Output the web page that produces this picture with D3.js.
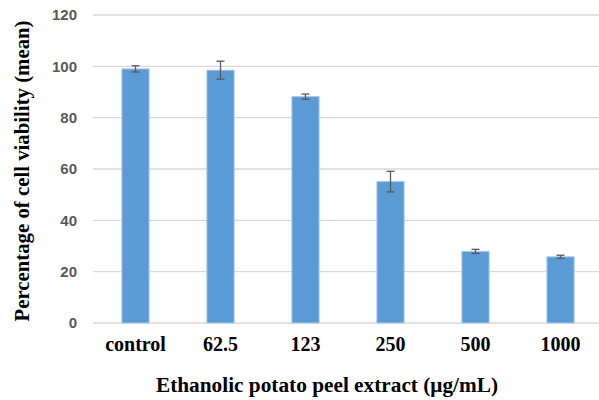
<!DOCTYPE html>
<html>
<head>
<meta charset="utf-8">
<script src="https://cdn.jsdelivr.net/npm/d3@7"></script>
<style>
  html, body { margin: 0; padding: 0; background: #fff; }
  svg { display: block; }
</style>
</head>
<body>
<svg id="chart" width="599" height="400"></svg>
<script>
const categories = ["control", "62.5", "123", "250", "500", "1000"];
const means = [99, 98.5, 88.2, 55.1, 27.9, 25.8];
const errors = [1.2, 3.5, 1.0, 4.0, 0.8, 0.6];
const yTicks = [0, 20, 40, 60, 80, 100, 120];
const xTitle = "Ethanolic potato peel extract (μg/mL)";
const yTitle = "Percentage of cell viability (mean)";

const svg = d3.select("#chart");
const mLeft = 93, mRight = 603, mTop = 15, mBottom = 323;

const x = d3.scaleBand().domain(categories).range([mLeft, mRight]).paddingInner(0.68).paddingOuter(0.34);
const y = d3.scaleLinear().domain([0, 120]).range([mBottom, mTop]);

// gridlines
svg.append("g").selectAll("line").data(yTicks).join("line")
  .attr("x1", mLeft).attr("x2", mRight)
  .attr("y1", d => y(d)).attr("y2", d => y(d))
  .attr("stroke", "#d9d9d9").attr("stroke-width", 1.3);

// y axis labels
const yAxis = d3.axisLeft(y).tickValues(yTicks).tickSize(0).tickPadding(16);
const ya = svg.append("g").attr("transform", `translate(${mLeft},0)`).call(yAxis);
ya.select(".domain").remove();
ya.selectAll("text")
  .attr("fill", "#595959")
  .style("font-family", "'Liberation Sans', Arial, sans-serif")
  .style("font-weight", "bold")
  .style("font-size", "15px");

// bars
svg.append("g").selectAll("rect").data(categories).join("rect")
  .attr("x", d => x(d))
  .attr("width", x.bandwidth())
  .attr("y", (d, i) => y(means[i]))
  .attr("height", (d, i) => y(0) - y(means[i]))
  .attr("fill", "#5b9bd5")
  .attr("stroke", "#a9c8ea").attr("stroke-width", 1);

// error bars
const eg = svg.append("g").attr("stroke", "#595959").attr("stroke-width", 1.3);
categories.forEach((c, i) => {
  const cx = x(c) + x.bandwidth() / 2;
  const y1 = y(means[i] + errors[i]), y2 = y(means[i] - errors[i]);
  eg.append("line").attr("x1", cx).attr("x2", cx).attr("y1", y1).attr("y2", y2);
  eg.append("line").attr("x1", cx - 4).attr("x2", cx + 4).attr("y1", y1).attr("y2", y1);
  eg.append("line").attr("x1", cx - 4).attr("x2", cx + 4).attr("y1", y2).attr("y2", y2);
});

// x labels
const xAxis = d3.axisBottom(x).tickSize(0).tickPadding(14);
const xa = svg.append("g").attr("transform", `translate(0,${mBottom})`).call(xAxis);
xa.select(".domain").remove();
xa.selectAll("text")
  .attr("fill", "#000")
  .style("font-family", "'Liberation Serif', 'Times New Roman', serif")
  .style("font-weight", "bold")
  .style("font-size", "20px");

// axis titles
svg.append("text")
  .attr("x", 327).attr("y", 392)
  .attr("text-anchor", "middle")
  .style("font-family", "'Liberation Serif', 'Times New Roman', serif")
  .style("font-weight", "bold")
  .style("font-size", "21.3px")
  .text(xTitle);

svg.append("text")
  .attr("transform", "translate(29,171) rotate(-90)")
  .attr("text-anchor", "middle")
  .style("font-family", "'Liberation Serif', 'Times New Roman', serif")
  .style("font-weight", "bold")
  .style("font-size", "20.8px")
  .text(yTitle);
</script>
</body>
</html>
